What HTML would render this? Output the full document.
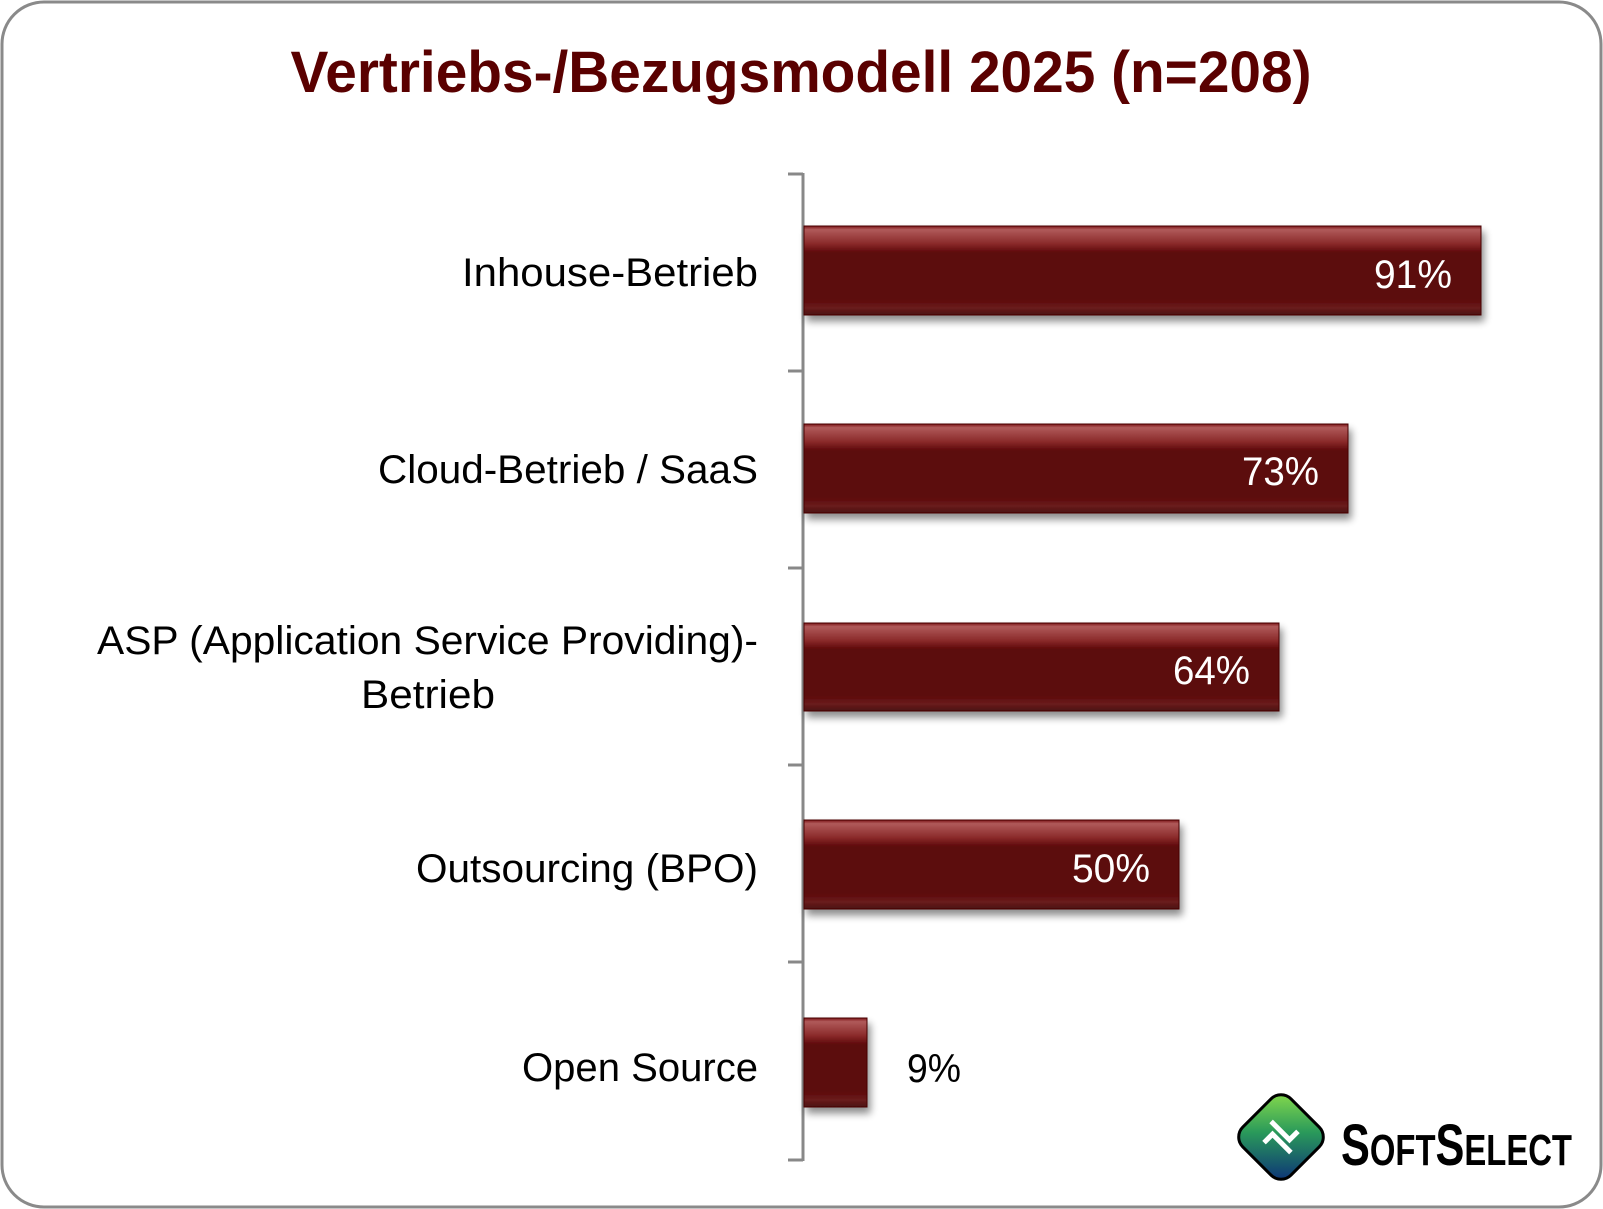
<!DOCTYPE html>
<html><head><meta charset="utf-8"><style>html,body{margin:0;padding:0;background:#fff}svg{display:block}</style></head>
<body>
<svg width="1603" height="1209" viewBox="0 0 1603 1209" xmlns="http://www.w3.org/2000/svg" font-family="'Liberation Sans', sans-serif">
<defs>
<linearGradient id="bv" x1="0" y1="0" x2="0" y2="1">
<stop offset="0" stop-color="#7a1416"/>
<stop offset="0.04" stop-color="#b05a5a"/>
<stop offset="0.2" stop-color="#8a2a2a"/>
<stop offset="0.3" stop-color="#5c0709"/>
<stop offset="0.82" stop-color="#5c0709"/>
<stop offset="0.92" stop-color="#6a1c1c"/>
<stop offset="1" stop-color="#4a1010"/>
</linearGradient>
<filter id="sh" x="-5%" y="-20%" width="110%" height="150%">
<feGaussianBlur in="SourceAlpha" stdDeviation="4"/>
<feOffset dx="3" dy="6"/>
<feComponentTransfer><feFuncA type="linear" slope="0.45"/></feComponentTransfer>
<feMerge><feMergeNode/><feMergeNode in="SourceGraphic"/></feMerge>
</filter>
<linearGradient id="lg" x1="0" y1="0" x2="1" y2="1">
<stop offset="0" stop-color="#8ee04a"/>
<stop offset="0.45" stop-color="#2a9a5a"/>
<stop offset="1" stop-color="#0a2a7a"/>
</linearGradient>
</defs>
<rect x="2" y="2" width="1599" height="1205" rx="42" ry="42" fill="#fff" stroke="#8a8a8a" stroke-width="3"/>
<text x="801" y="92" text-anchor="middle" font-size="58" font-weight="bold" fill="#5a0000" textLength="1021" lengthAdjust="spacingAndGlyphs">Vertriebs-/Bezugsmodell 2025 (n=208)</text>
<g stroke="#888" stroke-width="3">
<line x1="803" y1="173" x2="803" y2="1161"/>
<line x1="788" y1="174" x2="803" y2="174"/>
<line x1="788" y1="371" x2="803" y2="371"/>
<line x1="788" y1="568" x2="803" y2="568"/>
<line x1="788" y1="765" x2="803" y2="765"/>
<line x1="788" y1="962" x2="803" y2="962"/>
<line x1="788" y1="1160" x2="803" y2="1160"/>
</g>
<g filter="url(#sh)" fill="url(#bv)" stroke="#4a0000" stroke-width="1">
<rect x="804" y="226" width="677" height="89"/>
<rect x="804" y="424" width="544" height="89"/>
<rect x="804" y="623" width="475" height="88"/>
<rect x="804" y="820" width="375" height="89"/>
<rect x="804" y="1018" width="63" height="89"/>
</g>
<g font-size="40" fill="#000" text-anchor="end">
<text x="758" y="286" textLength="296" lengthAdjust="spacingAndGlyphs">Inhouse-Betrieb</text>
<text x="758" y="483" textLength="380" lengthAdjust="spacingAndGlyphs">Cloud-Betrieb / SaaS</text>
<text x="758" y="654" textLength="661" lengthAdjust="spacingAndGlyphs">ASP (Application Service Providing)-</text>
<text x="495" y="708" textLength="134" lengthAdjust="spacingAndGlyphs">Betrieb</text>
<text x="758" y="882" textLength="342" lengthAdjust="spacingAndGlyphs">Outsourcing (BPO)</text>
<text x="758" y="1081" textLength="236" lengthAdjust="spacingAndGlyphs">Open Source</text>
</g>
<g font-size="40" fill="#fff" text-anchor="end">
<text x="1452" y="288" textLength="78" lengthAdjust="spacingAndGlyphs">91%</text>
<text x="1319" y="485" textLength="77" lengthAdjust="spacingAndGlyphs">73%</text>
<text x="1250" y="684" textLength="77" lengthAdjust="spacingAndGlyphs">64%</text>
<text x="1150" y="882" textLength="78" lengthAdjust="spacingAndGlyphs">50%</text>
</g>
<text x="907" y="1082" font-size="40" fill="#000" textLength="54" lengthAdjust="spacingAndGlyphs">9%</text>
<g transform="translate(1281,1137) rotate(45)">
<rect x="-34" y="-34" width="68" height="68" rx="14" fill="url(#lg)" stroke="#000" stroke-width="3"/>
<path d="M-18 -4 L8 -4 L8 -16 M18 4 L-8 4 L-8 16" fill="none" stroke="#fff" stroke-width="5"/>
</g>
<text x="1341" y="1165" font-size="58" font-weight="bold" fill="#000" textLength="231" lengthAdjust="spacingAndGlyphs">S<tspan font-size="44">OFT</tspan>S<tspan font-size="44">ELECT</tspan></text>
</svg>
</body></html>
